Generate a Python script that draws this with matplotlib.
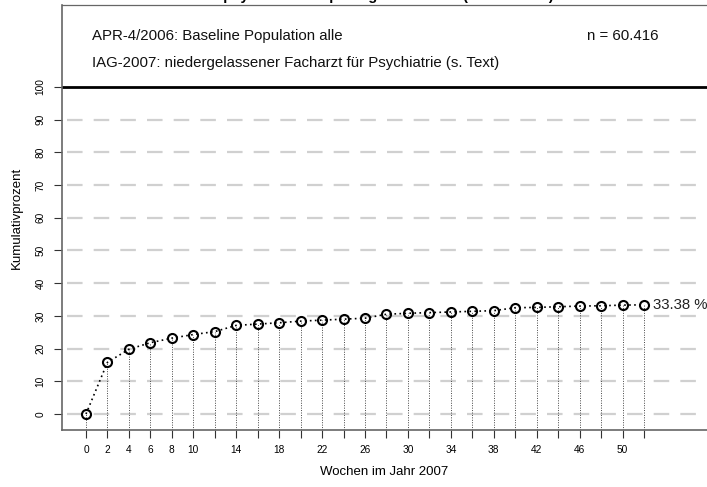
import numpy as np
import matplotlib.pyplot as plt

plt.rcParams['font.family'] = ['Liberation Sans', 'DejaVu Sans']

# Kumulativprozent je Woche (alle 2 Wochen)
wochen = list(range(0, 53, 2))
kum_prozent = [0.0, 15.8, 19.8, 21.8, 23.2, 24.3, 25.2, 27.1, 27.5, 27.9, 28.4,
               28.7, 29.0, 29.3, 30.5, 30.8, 31.0, 31.2, 31.4, 31.6, 32.5,
               32.6, 32.8, 33.0, 33.1, 33.3, 33.38]
x_labels = [0, 2, 4, 6, 8, 10, 14, 18, 22, 26, 30, 34, 38, 42, 46, 50]
y_ticks = list(range(0, 101, 10))

W, H = 707, 487
fig = plt.figure(figsize=(W / 100, H / 100), dpi=100)

# Achsenbereich in Pixeln
left, right, top, bottom = 62, 707, 5, 430
ax = fig.add_axes([left / W, (H - bottom) / H, (right - left) / W, (bottom - top) / H])

px_per_week = (644 - 86) / 52
x0 = -(86 - left) / px_per_week
x1 = (right - 86) / px_per_week
px_per_unit = (414 - 87) / 100
y0 = -(bottom - 414) / px_per_unit
y1 = (414 - top) / px_per_unit
ax.set_xlim(x0, x1)
ax.set_ylim(y0, y1)

# Hilfslinien
for v in y_ticks[:-1]:
    ax.plot([x0 + 0.45, x1], [v, v], color='#d0d0d0', lw=1.6,
            dashes=(7, 5), zorder=1)
ax.axhline(100, color='black', lw=2.0, zorder=2)

# Senkrechte Linien vom Punkt zur Achse
ax.vlines(wochen, y0, kum_prozent, colors='#444444', linestyles=(0, (1, 1.5)),
          lw=0.7, zorder=2)

ax.plot(wochen, kum_prozent, color='black', ls=(0, (1, 2)), lw=1.2,
        marker='o', ms=6.5, mfc='none', mec='black', mew=1.5, zorder=3)

ax.text(wochen[-1] + 0.8, kum_prozent[-1], f'{kum_prozent[-1]:.2f} %',
        fontsize=10.8, va='center', ha='left', color='#222222')

ax.set_xticks(wochen)
ax.set_xticklabels([str(w) if w in x_labels else '' for w in wochen])
ax.set_yticks(y_ticks)
ax.set_yticklabels([str(v) for v in y_ticks], rotation=90, va='center')
ax.tick_params(axis='x', length=6, width=0.8, labelsize=7.3, pad=5, color='#333333')
ax.tick_params(axis='y', length=6, width=0.8, labelsize=7.3, pad=6, color='#333333')

for s in ['left', 'bottom', 'top']:
    ax.spines[s].set_color('#666666')
    ax.spines[s].set_linewidth(1.2)
ax.spines['top'].set_linewidth(0.9)
ax.spines['right'].set_visible(False)

ax.set_ylabel('Kumulativprozent', fontsize=9.5, labelpad=9)
ax.set_xlabel('Wochen im Jahr 2007', fontsize=9.5, labelpad=8)

ax.text(0.55, 115.6, 'APR-4/2006: Baseline Population alle', fontsize=10.8,
        va='center', ha='left', color='#111111')
ax.text(0.55, 107.4, 'IAG-2007: niedergelassener Facharzt für Psychiatrie (s. Text)',
        fontsize=10.8, va='center', ha='left', color='#111111')
ax.text(46.7, 115.6, 'n = 60.416', fontsize=10.8, va='center', ha='left',
        color='#111111')

fig.text(374 / W, 1.008, 'Antipsychotikarezept eingelöst wurde (APR-4/2006)',
         fontsize=10.5, fontweight='bold', ha='center', va='center')

fig.savefig('out.png', dpi=100)
